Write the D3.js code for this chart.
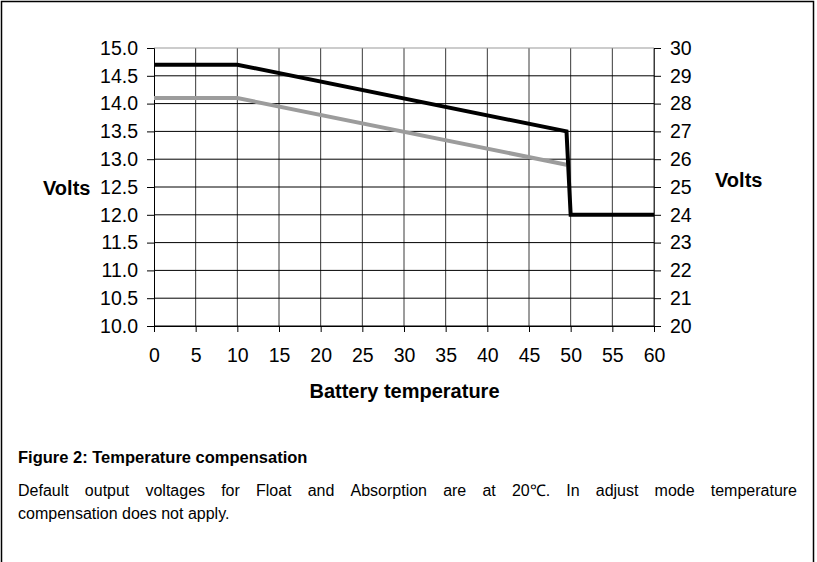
<!DOCTYPE html>
<html>
<head>
<meta charset="utf-8">
<script src="https://cdn.jsdelivr.net/npm/d3@7"></script>
<style>
  html, body { margin: 0; padding: 0; background: #fff; }
  svg { display: block; }
  text { font-family: Arial, "Liberation Sans", sans-serif; fill: #000; }
</style>
</head>
<body>
<svg id="chart" width="817" height="562"></svg>
<script>
// Battery temperature (°C) and charge voltages (12 V system, left axis)
const temps      = [0, 10, 49.5, 50, 60];
const absorption = [14.7, 14.7, 13.5, 12.0, 12.0];
const floatTemps = [0, 10, 49.5];
const floatVolts = [14.1, 14.1, 12.9];

const xTicks      = d3.range(0, 61, 5);
const leftTicks   = d3.range(10, 15.01, 0.5);
const rightTicks  = d3.range(20, 31, 1);

const captionTitle = "Figure 2: Temperature compensation";
const captionLine1 = "Default output voltages for Float and Absorption are at 20\u2103. In adjust mode temperature";
const captionLine2 = "compensation does not apply.";

const svg = d3.select("#chart");

// outer frame (continues below the visible page)
svg.append("rect")
  .attr("x", 1.5).attr("y", 1.5)
  .attr("width", 812).attr("height", 600)
  .attr("fill", "none").attr("stroke", "#000").attr("stroke-width", 1.5);

const x  = d3.scaleLinear().domain([0, 60]).range([154, 654]);
const yL = d3.scaleLinear().domain([10, 15]).range([326, 48]);
const yR = d3.scaleLinear().domain([20, 30]).range([326, 48]);

// grid
const grid = svg.append("g");
grid.selectAll("line.v").data(xTicks.slice(1)).join("line")
  .attr("x1", d => x(d)).attr("x2", d => x(d))
  .attr("y1", yL(15)).attr("y2", yL(10))
  .attr("stroke", "#3a3a3a").attr("stroke-width", 1);
grid.selectAll("line.h").data(leftTicks).join("line")
  .attr("x1", x(0)).attr("x2", x(60))
  .attr("y1", d => yL(d)).attr("y2", d => yL(d))
  .attr("stroke", d => d === 15 ? "#999" : "#000").attr("stroke-width", 1);

// axes
const fontTick = "19.5px";
const axL = svg.append("g").attr("transform", `translate(${x(0)},0)`)
  .call(d3.axisLeft(yL).tickValues(leftTicks).tickFormat(d3.format(".1f")).tickSize(7).tickPadding(9));
const axR = svg.append("g").attr("transform", `translate(${x(60)},0)`)
  .call(d3.axisRight(yR).tickValues(rightTicks).tickFormat(d3.format("d")).tickSize(7).tickPadding(9));
const axB = svg.append("g").attr("transform", `translate(0,${yL(10)})`)
  .call(d3.axisBottom(x).tickValues(xTicks).tickSize(6).tickPadding(16));
[axL, axR, axB].forEach(g => {
  g.selectAll("text").style("font-size", fontTick).style("font-family", "Arial, 'Liberation Sans', sans-serif").attr("fill", "#000");
  g.selectAll("line").attr("stroke", "#000");
  g.select(".domain").attr("stroke", "#000");
});
axR.select(".domain").attr("stroke", "#3a3a3a");

// series
const line = d3.line().x(d => x(d[0])).y(d => yL(d[1]));
svg.append("path")
  .datum(floatTemps.map((t, i) => [t, floatVolts[i]]))
  .attr("d", line).attr("fill", "none")
  .attr("stroke", "#9c9c9c").attr("stroke-width", 4);
svg.append("path")
  .datum(temps.map((t, i) => [t, absorption[i]]))
  .attr("d", line).attr("fill", "none")
  .attr("stroke", "#000").attr("stroke-width", 4).attr("stroke-linejoin", "miter");

// axis titles
svg.append("text").attr("x", 43).attr("y", 195)
  .style("font-size", "20px").style("font-weight", "bold").text("Volts");
svg.append("text").attr("x", 715).attr("y", 187)
  .style("font-size", "20px").style("font-weight", "bold").text("Volts");
svg.append("text").attr("x", 404.5).attr("y", 398).attr("text-anchor", "middle")
  .style("font-size", "20px").style("font-weight", "bold").text("Battery temperature");

// caption
svg.append("text").attr("x", 18).attr("y", 463)
  .style("font-size", "16.5px").style("font-weight", "bold").text(captionTitle);

// first caption line, justified between the margins
const left = 18, right = 797;
const words = captionLine1.split(" ");
const wg = svg.append("g");
const wt = wg.selectAll("text").data(words).join("text")
  .attr("y", 496).style("font-size", "16px").text(d => d);
const widths = [];
wt.each(function() { widths.push(this.getComputedTextLength()); });
const gap = (right - left - d3.sum(widths)) / (words.length - 1);
let cx = left;
wt.attr("x", (d, i) => { const p = cx; cx += widths[i] + gap; return p; });

svg.append("text").attr("x", 18).attr("y", 519)
  .style("font-size", "16px").text(captionLine2);
</script>
</body>
</html>
